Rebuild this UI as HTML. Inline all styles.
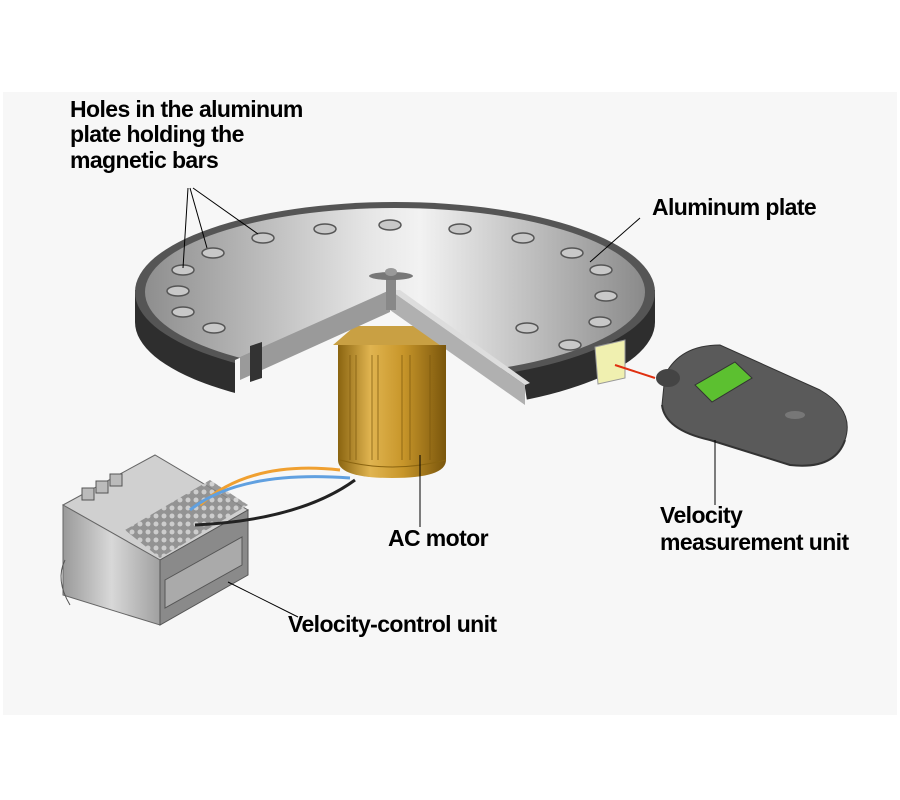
<!DOCTYPE html>
<html><head><meta charset="utf-8"><style>
html,body{margin:0;padding:0;background:#fff;}
svg{display:block;}
text{font-family:"Liberation Sans",sans-serif;font-size:23px;font-weight:bold;fill:#000;letter-spacing:-0.6px;}
</style></head><body>
<svg width="900" height="800" viewBox="0 0 900 800" xmlns="http://www.w3.org/2000/svg">
<defs>
<linearGradient id="top" x1="0" x2="1" y1="0" y2="0">
<stop offset="0" stop-color="#8e8e8e"/><stop offset="0.45" stop-color="#e6e6e6"/><stop offset="0.55" stop-color="#f2f2f2"/><stop offset="1" stop-color="#8a8a8a"/>
</linearGradient>
<linearGradient id="gold" x1="0" x2="1">
<stop offset="0" stop-color="#8a6410"/><stop offset="0.3" stop-color="#e0b450"/><stop offset="0.6" stop-color="#c8962a"/><stop offset="1" stop-color="#7a560c"/>
</linearGradient>
<linearGradient id="box" x1="0" x2="1">
<stop offset="0" stop-color="#9a9a9a"/><stop offset="0.5" stop-color="#d8d8d8"/><stop offset="1" stop-color="#a0a0a0"/>
</linearGradient>
<pattern id="grid" width="8" height="8" patternUnits="userSpaceOnUse"><rect width="8" height="8" fill="#888"/><circle cx="4" cy="4" r="2.5" fill="#ccc"/></pattern>
</defs>
<rect x="3" y="92" width="894" height="623" fill="#f7f7f7"/>

<ellipse cx="395" cy="322" rx="260" ry="90" fill="#2e2e2e"/>
<rect x="135" y="290" width="520" height="32" fill="#2e2e2e"/>
<ellipse cx="395" cy="292" rx="260" ry="90" fill="#555"/>
<ellipse cx="395" cy="292" rx="250" ry="84" fill="url(#top)"/>
<polygon points="390,290 235,360 235,420 530,420 525,388" fill="#f7f7f7"/>
<polygon points="355,326 425,326 448,345 333,345" fill="#c9a043"/>
<polygon points="390,290 240,357 240,380 390,312" fill="#9a9a9a"/>
<polygon points="250,346 262,342 262,378 250,382" fill="#333"/>
<polygon points="390,290 525,385 525,405 390,310" fill="#b0b0b0"/>
<polygon points="390,290 400,290 530,383 525,385" fill="#ddd"/>
<rect x="386" y="276" width="10" height="34" fill="#888"/>
<ellipse cx="391" cy="276" rx="22" ry="4" fill="#777"/>
<ellipse cx="391" cy="272" rx="6" ry="4" fill="#999"/>
<g fill="#c8c8c8" stroke="#555" stroke-width="1.5">
<ellipse cx="183" cy="270" rx="11" ry="5"/><ellipse cx="213" cy="253" rx="11" ry="5"/>
<ellipse cx="263" cy="238" rx="11" ry="5"/><ellipse cx="325" cy="229" rx="11" ry="5"/>
<ellipse cx="390" cy="225" rx="11" ry="5"/><ellipse cx="460" cy="229" rx="11" ry="5"/>
<ellipse cx="523" cy="238" rx="11" ry="5"/><ellipse cx="572" cy="253" rx="11" ry="5"/>
<ellipse cx="601" cy="270" rx="11" ry="5"/><ellipse cx="606" cy="296" rx="11" ry="5"/>
<ellipse cx="600" cy="322" rx="11" ry="5"/><ellipse cx="570" cy="345" rx="11" ry="5"/>
<ellipse cx="527" cy="328" rx="11" ry="5"/>
<ellipse cx="178" cy="291" rx="11" ry="5"/><ellipse cx="183" cy="312" rx="11" ry="5"/>
<ellipse cx="214" cy="328" rx="11" ry="5"/>
</g>
<polygon points="595,347 625,340 625,378 598,384" fill="#f0f0b0" stroke="#999"/>
<line x1="615" y1="365" x2="655" y2="378" stroke="#e03010" stroke-width="2"/>

<path d="M338,345 H446 V460 Q446,478 392,478 Q338,478 338,460 Z" fill="url(#gold)"/>
<g stroke="#7a560c" stroke-width="1" opacity="0.7">
<line x1="350" y1="355" x2="350" y2="460"/><line x1="356" y1="355" x2="356" y2="460"/>
<line x1="372" y1="355" x2="372" y2="460"/><line x1="378" y1="355" x2="378" y2="460"/>
<line x1="402" y1="355" x2="402" y2="460"/><line x1="410" y1="355" x2="410" y2="460"/>
<line x1="430" y1="355" x2="430" y2="460"/>
</g>
<path d="M340,460 Q392,474 446,460" stroke="#8a6410" fill="none"/>

<path d="M665,375 Q680,345 720,345 L820,390 Q855,410 845,440 Q835,470 790,465 L710,440 Q665,430 662,405 Z" fill="#5a5a5a" stroke="#333"/>
<path d="M662,405 Q665,430 710,440 L790,465 Q835,470 845,440" fill="none" stroke="#333" stroke-width="2"/>
<ellipse cx="668" cy="378" rx="12" ry="9" fill="#444"/>
<polygon points="695,385 735,362 752,378 712,402" fill="#5cc030" stroke="#333"/>
<ellipse cx="795" cy="415" rx="10" ry="4" fill="#777"/>

<polygon points="63,505 155,455 248,510 160,560" fill="#d0d0d0" stroke="#666"/>
<polygon points="63,505 160,560 160,625 63,595" fill="url(#box)" stroke="#666"/>
<polygon points="160,560 248,510 248,575 160,625" fill="#8a8a8a" stroke="#555"/>
<polygon points="165,580 242,537 242,565 165,608" fill="#aaa" stroke="#555"/>
<polygon points="125,530 210,480 248,505 160,558" fill="url(#grid)" opacity="0.85"/>
<g fill="#bbb" stroke="#555"><rect x="82" y="488" width="12" height="12"/><rect x="96" y="481" width="12" height="12"/><rect x="110" y="474" width="12" height="12"/></g>
<path d="M65,560 Q55,580 70,605" stroke="#555" fill="none"/>
<path d="M200,505 Q250,460 340,470" stroke="#f0a030" stroke-width="3" fill="none"/>
<path d="M190,510 Q240,470 350,478" stroke="#60a0e0" stroke-width="3" fill="none"/>
<path d="M195,525 Q300,520 355,480" stroke="#222" stroke-width="3" fill="none"/>

<g stroke="#000" stroke-width="1" fill="none">
<line x1="188" y1="188" x2="183" y2="268"/><line x1="190" y1="188" x2="207" y2="248"/>
<line x1="193" y1="188" x2="258" y2="234"/>
<line x1="640" y1="218" x2="590" y2="262"/>
<line x1="420" y1="455" x2="420" y2="527"/>
<line x1="715" y1="440" x2="715" y2="505"/>
<line x1="228" y1="582" x2="298" y2="617"/>
</g>

<text x="70" y="117">Holes in the aluminum</text>
<text x="70" y="142">plate holding the</text>
<text x="70" y="168">magnetic bars</text>
<text x="652" y="215">Aluminum plate</text>
<text x="388" y="546">AC motor</text>
<text x="660" y="523">Velocity</text>
<text x="660" y="550">measurement unit</text>
<text x="288" y="632">Velocity-control unit</text>
</svg>
</body></html>
